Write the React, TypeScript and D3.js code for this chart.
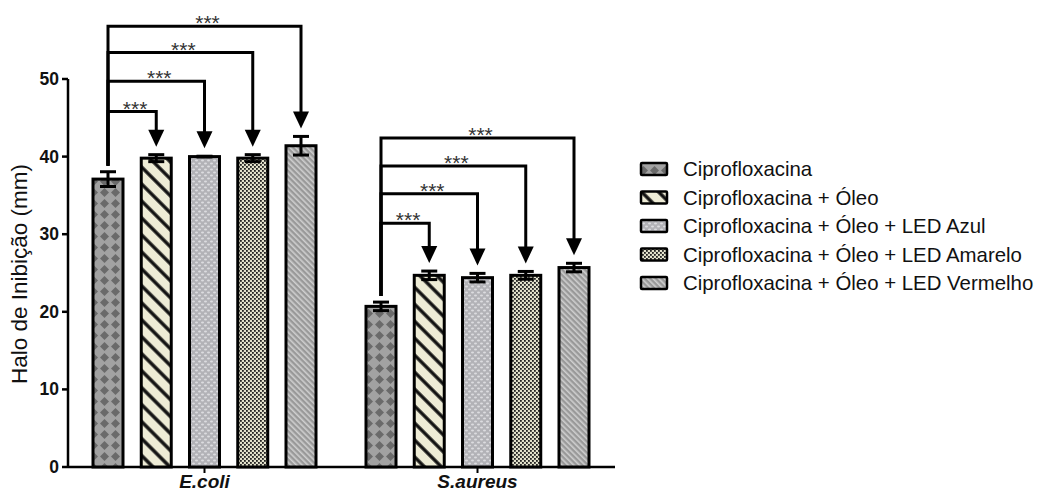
import React from "react";
import * as d3 from "d3";

const groups = ["E.coli", "S.aureus"];
const series = [
  "Ciprofloxacina",
  "Ciprofloxacina + Óleo",
  "Ciprofloxacina + Óleo + LED Azul",
  "Ciprofloxacina + Óleo + LED Amarelo",
  "Ciprofloxacina + Óleo + LED Vermelho",
];
const ecoliMeans = [37.1, 39.8, 40.0, 39.8, 41.4];
const ecoliErrors = [0.95, 0.45, 0.05, 0.45, 1.2];
const saureusMeans = [20.7, 24.7, 24.4, 24.7, 25.7];
const saureusErrors = [0.55, 0.55, 0.55, 0.5, 0.55];
const ecoliBracketLevels = [45.8, 49.7, 53.4, 56.8];
const saureusBracketLevels = [31.4, 35.2, 38.8, 42.4];
const significance = ["***", "***", "***", "***"];
const yTicks = [0, 10, 20, 30, 40, 50];

const W = 1040;
const H = 493;
const FONT = "Arial, 'Liberation Sans', Helvetica, sans-serif";

const patternIds = ["pDiamond", "pStripe", "pAzul", "pAmarelo", "pVermelho"];

export default function App() {
  const y = d3.scaleLinear().domain([0, 50]).range([467, 79]);
  const x0 = d3.scaleBand<string>().domain(groups).range([68, 614]);
  const xi = d3.scalePoint<string>().domain(series).range([-96.5, 96.5]);
  const barW = 30;

  const data = [
    { g: groups[0], means: ecoliMeans, errs: ecoliErrors, levels: ecoliBracketLevels },
    { g: groups[1], means: saureusMeans, errs: saureusErrors, levels: saureusBracketLevels },
  ];
  const cx = (g: string, s: string) => (x0(g) as number) + x0.bandwidth() / 2 + (xi(s) as number);

  return (
    <svg width={W} height={H} style={{ position: "absolute", left: 0, top: 0, background: "#fff" }}>
      <defs>
        <pattern id="pDiamond" patternUnits="userSpaceOnUse" width={11} height={11}>
          <rect width={11} height={11} fill="#a2a2a2" />
          <polygon points="5.5,1 10,5.5 5.5,10 1,5.5" fill="#6a6a6a" />
        </pattern>
        <pattern id="pStripe" patternUnits="userSpaceOnUse" width={12} height={12} patternTransform="rotate(-45)">
          <rect width={12} height={12} fill="#eeecd6" />
          <rect x={4.3} width={3.4} height={12} fill="#111" />
        </pattern>
        <pattern id="pAzul" patternUnits="userSpaceOnUse" width={6} height={6}>
          <rect width={6} height={6} fill="#b2b2b7" />
          <ellipse cx={1.5} cy={1.5} rx={1.5} ry={1} fill="#dcdce0" />
          <ellipse cx={4.5} cy={4.5} rx={1.5} ry={1} fill="#dcdce0" />
        </pattern>
        <pattern id="pAmarelo" patternUnits="userSpaceOnUse" width={4} height={4}>
          <rect width={4} height={4} fill="#e2e1cb" />
          <rect x={0} y={0} width={1.8} height={1.8} fill="#222" />
          <rect x={2} y={2} width={1.8} height={1.8} fill="#222" />
        </pattern>
        <pattern id="pVermelho" patternUnits="userSpaceOnUse" width={4} height={4} patternTransform="rotate(-45)">
          <rect width={4} height={4} fill="#999" />
          <rect x={0} width={1.6} height={4} fill="#cfcfcf" />
        </pattern>
      </defs>

      {/* Y axis */}
      <line x1={68} x2={68} y1={y(50)} y2={y(0)} stroke="#000" strokeWidth={2.5} />
      {yTicks.map((t) => (
        <g key={t}>
          <line x1={62} x2={68} y1={y(t)} y2={y(t)} stroke="#000" strokeWidth={2.5} />
          <text x={59} y={y(t) + 6} textAnchor="end" fontFamily={FONT} fontWeight="bold" fontSize={17.5} fill="#111">
            {t}
          </text>
        </g>
      ))}
      <text
        transform={`translate(27,274) rotate(-90)`}
        textAnchor="middle"
        fontFamily={FONT}
        fontSize={22.5}
        fill="#111"
      >
        Halo de Inibição (mm)
      </text>

      {/* X axis */}
      <line x1={68} x2={615} y1={y(0)} y2={y(0)} stroke="#000" strokeWidth={2.5} />
      {groups.map((g) => {
        const c = (x0(g) as number) + x0.bandwidth() / 2;
        return (
          <g key={g}>
            <line x1={c} x2={c} y1={y(0)} y2={y(0) + 6} stroke="#000" strokeWidth={2} />
            <text x={c} y={488} textAnchor="middle" fontFamily={FONT} fontWeight="bold" fontStyle="italic" fontSize={19} fill="#111">
              {g}
            </text>
          </g>
        );
      })}

      {/* Bars */}
      {data.map((d) => (
        <g key={d.g}>
          {series.map((s, i) => {
            const c = cx(d.g, s);
            return (
              <rect
                key={s}
                x={c - barW / 2}
                y={y(d.means[i])}
                width={barW}
                height={y(0) - y(d.means[i])}
                fill={`url(#${patternIds[i]})`}
                stroke="#000"
                strokeWidth={3}
              />
            );
          })}
          {series.map((s, i) => {
            const c = cx(d.g, s);
            const hi = y(d.means[i] + d.errs[i]);
            const lo = y(d.means[i] - d.errs[i]);
            return (
              <g key={s + "e"} stroke="#000" strokeWidth={3}>
                <line x1={c} x2={c} y1={hi} y2={lo} />
                <line x1={c - 8} x2={c + 8} y1={hi} y2={hi} />
                <line x1={c - 8} x2={c + 8} y1={lo} y2={lo} />
              </g>
            );
          })}
          {/* significance brackets */}
          {d.levels.map((lv, k) => {
            const i = k + 1;
            const ox = cx(d.g, series[0]);
            const oy = y(d.means[0] + d.errs[0]) - 6;
            const tx = cx(d.g, series[i]);
            const tipY = y(d.means[i] + d.errs[i]) - 8;
            const ly = y(lv);
            return (
              <g key={"b" + k}>
                <path
                  d={`M${ox},${oy} V${ly} H${tx} V${tipY - 14}`}
                  fill="none"
                  stroke="#000"
                  strokeWidth={3}
                />
                <polygon points={`${tx - 8},${tipY - 17} ${tx + 8},${tipY - 17} ${tx},${tipY}`} fill="#000" />
                <text
                  x={(ox + tx) / 2 + 3}
                  y={ly + 4}
                  textAnchor="middle"
                  fontFamily={FONT}
                  fontSize={21}
                  fill="#333"
                >
                  {significance[k]}
                </text>
              </g>
            );
          })}
        </g>
      ))}

      {/* Legend */}
      {series.map((s, i) => {
        const cy = 169 + i * 28.5;
        return (
          <g key={s}>
            <rect x={641} y={cy - 6} width={26} height={12} fill={`url(#${patternIds[i]})`} stroke="#000" strokeWidth={2.5} rx={1} />
            <text x={683} y={cy + 7} fontFamily={FONT} fontSize={20.4} fill="#111">
              {s}
            </text>
          </g>
        );
      })}
    </svg>
  );
}
